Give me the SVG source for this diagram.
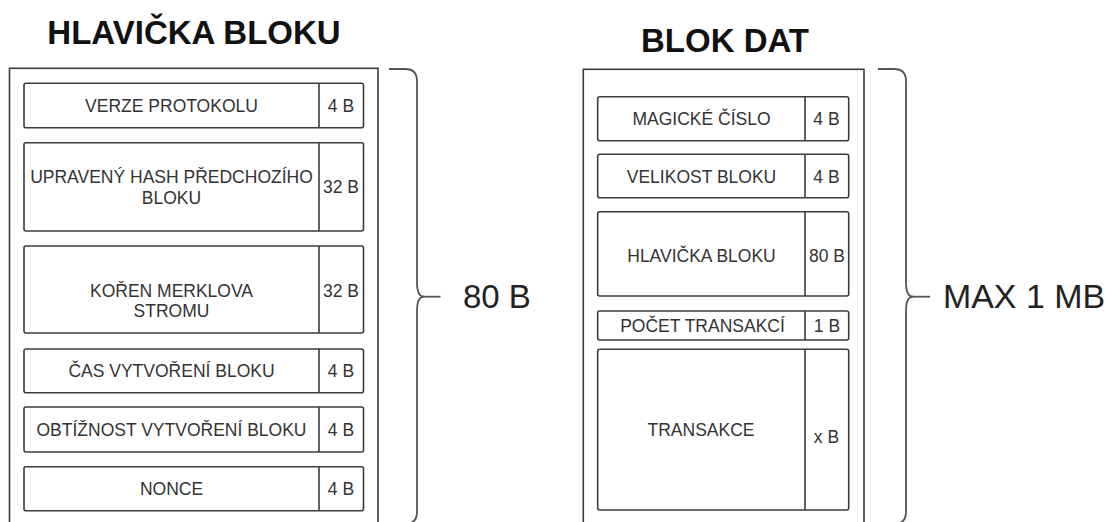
<svg xmlns="http://www.w3.org/2000/svg" width="1106" height="522" viewBox="0 0 1106 522">
<style>
.outer{fill:none;stroke:#3c3c3c;stroke-width:1.6}
.cell{fill:#fff;stroke:#3c3c3c;stroke-width:1.6}
.div{stroke:#3c3c3c;stroke-width:1.6}
.brace{fill:none;stroke:#555;stroke-width:1.8}
.t{font-family:"Liberation Sans",Arial,sans-serif;font-size:17.5px;fill:#333;text-anchor:middle}
.title{font-family:"Liberation Sans",Arial,sans-serif;font-size:33px;font-weight:bold;fill:#111;text-anchor:middle}
.size{font-family:"Liberation Sans",Arial,sans-serif;font-size:33px;fill:#222}
</style>
<rect width="1106" height="522" fill="#fff"/>

<g id="header">
<text class="title" x="194" y="44">HLAVIČKA BLOKU</text>
<rect class="outer" x="9.5" y="68.3" width="368.5" height="470"/>
<g id="h-verze">
<rect class="cell" x="24" y="83.3" width="339.5" height="44.4" rx="2"/>
<line class="div" x1="319" y1="83.3" x2="319" y2="127.7"/>
<text class="t" x="171.5" y="112">VERZE PROTOKOLU</text>
<text class="t" x="341" y="112">4 B</text>
</g>
<g id="h-hash">
<rect class="cell" x="24" y="142.7" width="339.5" height="88.3" rx="2"/>
<line class="div" x1="319" y1="142.7" x2="319" y2="231"/>
<text class="t" x="171.5" y="183.3">UPRAVENÝ HASH PŘEDCHOZÍHO</text>
<text class="t" x="171.5" y="204">BLOKU</text>
<text class="t" x="341" y="193">32 B</text>
</g>
<g id="h-merkle">
<rect class="cell" x="24" y="246" width="339.5" height="87" rx="2"/>
<line class="div" x1="319" y1="246" x2="319" y2="333"/>
<text class="t" x="171.5" y="296.7">KOŘEN MERKLOVA</text>
<text class="t" x="171.5" y="316.7">STROMU</text>
<text class="t" x="341" y="296.7">32 B</text>
</g>
<g id="h-cas">
<rect class="cell" x="24" y="349" width="339.5" height="43.7" rx="2"/>
<line class="div" x1="319" y1="349" x2="319" y2="392.7"/>
<text class="t" x="171.5" y="377">ČAS VYTVOŘENÍ BLOKU</text>
<text class="t" x="341" y="377">4 B</text>
</g>
<g id="h-obtiznost">
<rect class="cell" x="24" y="407" width="339.5" height="45" rx="2"/>
<line class="div" x1="319" y1="407" x2="319" y2="452"/>
<text class="t" x="171.5" y="436">OBTÍŽNOST VYTVOŘENÍ BLOKU</text>
<text class="t" x="341" y="436">4 B</text>
</g>
<g id="h-nonce">
<rect class="cell" x="24" y="466.7" width="339.5" height="44" rx="2"/>
<line class="div" x1="319" y1="466.7" x2="319" y2="510.7"/>
<text class="t" x="171.5" y="495">NONCE</text>
<text class="t" x="341" y="495">4 B</text>
</g>
</g>

<g id="datablock">
<text class="title" x="725" y="51.7">BLOK DAT</text>
<rect class="outer" x="583.3" y="69.3" width="280.7" height="470"/>
<g id="d-magic">
<rect class="cell" x="597.7" y="96.7" width="251" height="44" rx="2"/>
<line class="div" x1="805" y1="96.7" x2="805" y2="140.7"/>
<text class="t" x="701.5" y="125">MAGICKÉ ČÍSLO</text>
<text class="t" x="826.5" y="125">4 B</text>
</g>
<g id="d-velikost">
<rect class="cell" x="597.7" y="154.3" width="251" height="43.4" rx="2"/>
<line class="div" x1="805" y1="154.3" x2="805" y2="197.7"/>
<text class="t" x="701.5" y="182.7">VELIKOST BLOKU</text>
<text class="t" x="826.5" y="182.7">4 B</text>
</g>
<g id="d-hlavicka">
<rect class="cell" x="597.7" y="211.7" width="251" height="84.3" rx="2"/>
<line class="div" x1="805" y1="211.7" x2="805" y2="296"/>
<text class="t" x="701.5" y="261.7">HLAVIČKA BLOKU</text>
<text class="t" x="827" y="261.7">80 B</text>
</g>
<g id="d-pocet">
<rect class="cell" x="597.7" y="311" width="251" height="29" rx="2"/>
<line class="div" x1="805" y1="311" x2="805" y2="340"/>
<text class="t" x="702.5" y="331.7">POČET TRANSAKCÍ</text>
<text class="t" x="827" y="331.7">1 B</text>
</g>
<g id="d-transakce">
<rect class="cell" x="597.7" y="349.3" width="251" height="160.7" rx="2"/>
<line class="div" x1="805" y1="349.3" x2="805" y2="510"/>
<text class="t" x="701" y="436">TRANSAKCE</text>
<text class="t" x="826.5" y="442.7">x B</text>
</g>
</g>

<g id="connectors">
<path class="brace" d="M389,69 H405 Q417,69 417,81 V282 Q417,296.7 424,296.7 Q417,296.7 417,311 V512 Q417,524 405,524 H389"/>
<path class="brace" d="M422,296.7 H440.5"/>
<path class="brace" d="M878,69 H894 Q906,69 906,81 V282 Q906,296.7 913,296.7 Q906,296.7 906,311 V512 Q906,524 894,524 H878"/>
<path class="brace" d="M911,296.7 H930"/>
</g>

<text class="size" x="463" y="308">80 B</text>
<text class="size" x="943" y="308" textLength="162" lengthAdjust="spacingAndGlyphs">MAX 1 MB</text>
</svg>
